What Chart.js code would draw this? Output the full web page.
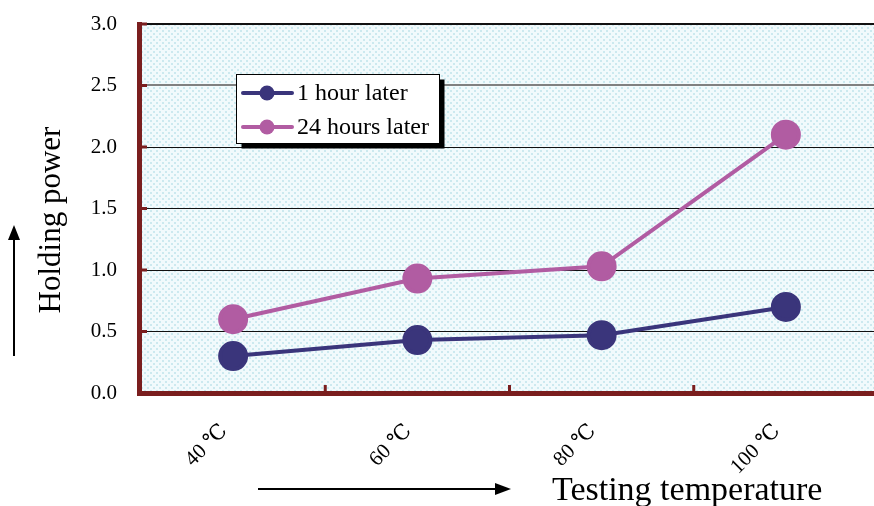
<!DOCTYPE html>
<html>
<head>
<meta charset="utf-8">
<script src="https://cdn.jsdelivr.net/npm/chart.js@4/dist/chart.umd.min.js"></script>
<style>
  html, body { margin: 0; padding: 0; background: #fff; overflow: hidden; }
  #wrap { width: 878px; height: 506px; position: relative; }
</style>
</head>
<body>
<div id="wrap"><canvas id="c"></canvas></div>
<script>
// Holding power measured at each testing temperature
const categories = ['40 \u2103', '60 \u2103', '80 \u2103', '100 \u2103'];
const oneHourLater = [0.30, 0.43, 0.47, 0.70];
const twentyFourHoursLater = [0.60, 0.93, 1.03, 2.10];
const seriesNames = ['1 hour later', '24 hours later'];
const yTickValues = [0, 0.5, 1.0, 1.5, 2.0, 2.5, 3.0];
const xTitle = 'Testing temperature';
const yTitle = 'Holding power';

const NAVY = '#3a357b';
const ORCHID = '#b15ca2';
const AXIS_RED = '#7a1e1e';
const SERIF = '"Liberation Serif", "DejaVu Serif", serif';

// dotted light-cyan fill for the plot area
function makePattern(ctx) {
  const t = document.createElement('canvas');
  t.width = 6; t.height = 6;
  const g = t.getContext('2d');
  g.fillStyle = '#f1fafc';
  g.fillRect(0, 0, 6, 6);
  g.fillStyle = '#cce9ef';
  g.fillRect(0, 0, 2, 2);
  g.fillRect(3, 3, 2, 2);
  return ctx.createPattern(t, 'repeat');
}

const decorPlugin = {
  id: 'decor',
  beforeDraw(chart) {
    const { ctx, chartArea: a } = chart;
    ctx.save();
    ctx.fillStyle = makePattern(ctx);
    ctx.fillRect(a.left, a.top, a.right - a.left, a.bottom - a.top);
    ctx.restore();
  },
  beforeDatasetsDraw(chart) {
    const { ctx, chartArea: a, scales } = chart;
    ctx.save();
    ctx.fillStyle = AXIS_RED;
    // left axis bar with inward tick stubs
    ctx.fillRect(a.left - 4, a.top - 2, 5, a.bottom - a.top + 5);
    yTickValues.forEach(v => {
      const y = scales.y.getPixelForValue(v);
      ctx.fillRect(a.left, y - 1.5, 6, 3);
    });
    // bottom axis bar with category boundary stubs
    ctx.fillRect(a.left - 4, a.bottom - 2, a.right - a.left + 8, 5);
    for (let i = 1; i < categories.length; i++) {
      const x = (scales.x.getPixelForValue(i - 1) + scales.x.getPixelForValue(i)) / 2;
      ctx.fillRect(x - 1.5, a.bottom - 8, 3, 8);
    }
    ctx.restore();
  },
  afterDraw(chart) {
    const { ctx } = chart;
    ctx.save();

    // legend box with drop shadow
    const bx = 236.5, by = 74.5, bw = 203, bh = 69;
    ctx.fillStyle = '#000';
    ctx.fillRect(bx + 5, by + 5, bw, bh);
    ctx.fillStyle = '#fff';
    ctx.fillRect(bx, by, bw, bh);
    ctx.strokeStyle = '#000';
    ctx.lineWidth = 1;
    ctx.strokeRect(bx, by, bw, bh);
    const rows = [93, 127];
    chart.data.datasets.forEach((ds, i) => {
      const y = rows[i];
      ctx.strokeStyle = ds.borderColor;
      ctx.lineWidth = 4;
      ctx.lineCap = 'round';
      ctx.beginPath();
      ctx.moveTo(243, y);
      ctx.lineTo(292, y);
      ctx.stroke();
      ctx.fillStyle = ds.backgroundColor;
      ctx.beginPath();
      ctx.arc(267, y, 7.5, 0, Math.PI * 2);
      ctx.fill();
      ctx.fillStyle = '#000';
      ctx.font = '24px ' + SERIF;
      ctx.textAlign = 'left';
      ctx.textBaseline = 'middle';
      ctx.fillText(ds.label, 297, y + 1);
    });

    // axis titles
    ctx.fillStyle = '#000';
    ctx.font = '34px ' + SERIF;
    ctx.textAlign = 'left';
    ctx.textBaseline = 'alphabetic';
    ctx.fillText(xTitle, 552, 500);

    ctx.save();
    ctx.translate(60, 220);
    ctx.rotate(-Math.PI / 2);
    ctx.textAlign = 'center';
    ctx.font = '31px ' + SERIF;
    ctx.fillText(yTitle, 0, 0);
    ctx.restore();

    // direction arrows
    ctx.strokeStyle = '#000';
    ctx.fillStyle = '#000';
    ctx.lineWidth = 2;
    ctx.lineCap = 'butt';
    ctx.beginPath();
    ctx.moveTo(14, 356);
    ctx.lineTo(14, 236);
    ctx.stroke();
    ctx.beginPath();
    ctx.moveTo(14, 225);
    ctx.lineTo(8, 240);
    ctx.lineTo(20, 240);
    ctx.closePath();
    ctx.fill();

    ctx.beginPath();
    ctx.moveTo(258, 489);
    ctx.lineTo(498, 489);
    ctx.stroke();
    ctx.beginPath();
    ctx.moveTo(511, 489);
    ctx.lineTo(495, 483);
    ctx.lineTo(495, 495);
    ctx.closePath();
    ctx.fill();

    ctx.restore();
  }
};

new Chart(document.getElementById('c'), {
  type: 'line',
  data: {
    labels: categories,
    datasets: [
      {
        label: seriesNames[0],
        data: oneHourLater,
        borderColor: NAVY,
        backgroundColor: NAVY,
        borderWidth: 4,
        pointRadius: 13,
        pointHoverRadius: 13,
        tension: 0
      },
      {
        label: seriesNames[1],
        data: twentyFourHoursLater,
        borderColor: ORCHID,
        backgroundColor: ORCHID,
        borderWidth: 4,
        pointRadius: 13,
        pointHoverRadius: 13,
        tension: 0
      }
    ]
  },
  options: {
    responsive: true,
    maintainAspectRatio: false,
    animation: false,
    events: [],
    layout: { autoPadding: false, padding: { top: 24, left: 0, right: 0, bottom: 0 } },
    plugins: {
      legend: { display: false },
      tooltip: { enabled: false }
    },
    scales: {
      x: {
        type: 'category',
        offset: true,
        border: { display: false },
        grid: { display: false, offset: true },
        ticks: {
          color: '#000',
          font: { family: SERIF, size: 21 },
          minRotation: 45,
          maxRotation: 45,
          padding: 18,
          labelOffset: -9
        },
        afterFit(scale) {
          scale.height = 113;
          scale.paddingLeft = 0;
          scale.paddingRight = 0;
        }
      },
      y: {
        min: 0,
        max: 3,
        border: { display: false },
        afterBuildTicks(scale) {
          scale.ticks = yTickValues.map(v => ({ value: v }));
        },
        grid: {
          drawTicks: false,
          color: c => (c.tick && c.tick.value === 2.5) ? '#808080' : '#111',
          lineWidth: c => (c.tick && (c.tick.value === 2.5 || c.tick.value === 3)) ? 2 : 1
        },
        ticks: {
          color: '#000',
          font: { family: SERIF, size: 21 },
          padding: 24,
          callback: v => Number(v).toFixed(1)
        },
        afterFit(scale) {
          scale.width = 141;
          scale.paddingTop = 0;
          scale.paddingBottom = 0;
        }
      }
    }
  },
  plugins: [decorPlugin]
});
</script>
</body>
</html>
